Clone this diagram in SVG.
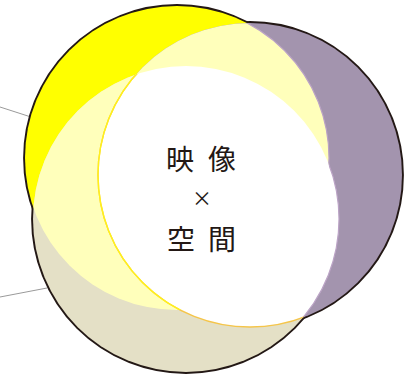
<svg xmlns="http://www.w3.org/2000/svg" width="412" height="374" viewBox="0 0 412 374">
<style>
.outline{fill:none;stroke:#231815;stroke-width:3.8}
.con{fill:none;stroke:#9a9a9a;stroke-width:1}
.lbl{font-family:"Noto Sans CJK JP","Noto Sans CJK SC",sans-serif;fill:#231815}
.edgeP{fill:none;stroke:#bba3c6;stroke-width:1.2}
</style>
<defs>
<clipPath id="cY"><circle cx="177" cy="158" r="152"/></clipPath>
<clipPath id="cP"><circle cx="250" cy="175" r="152"/></clipPath>
<clipPath id="cB"><circle cx="186" cy="219" r="153"/></clipPath>
<mask id="mPnoB" maskUnits="userSpaceOnUse" x="0" y="0" width="412" height="374">
<rect width="412" height="374" fill="#000"/>
<circle cx="250" cy="175" r="152" fill="#fff"/>
<circle cx="186" cy="219" r="153" fill="#000"/>
</mask>
<mask id="mPnoY" maskUnits="userSpaceOnUse" x="0" y="0" width="412" height="374">
<rect width="412" height="374" fill="#000"/>
<circle cx="250" cy="175" r="152" fill="#fff"/>
<circle cx="177" cy="158" r="152" fill="#000"/>
</mask>
</defs>
<g id="connectors">
<line class="con" x1="0" y1="107" x2="31" y2="117"/>
<line class="con" x1="0" y1="297" x2="47" y2="288"/>
</g>
<g id="outlines">
<circle class="outline" cx="177" cy="158" r="152"/>
<circle class="outline" cx="250" cy="175" r="152"/>
<circle class="outline" cx="186" cy="219" r="153"/>
</g>
<g id="circle-yellow"><circle cx="177" cy="158" r="152" fill="#ffff00"/></g>
<g id="circle-purple"><circle cx="250" cy="175" r="152" fill="#a394ae"/></g>
<g id="circle-beige"><circle cx="186" cy="219" r="153" fill="#e4e0c6"/></g>
<g id="overlap-yellow-purple"><circle cx="250" cy="175" r="152" fill="#ffffbb" clip-path="url(#cY)"/></g>
<g id="overlap-yellow-beige"><circle cx="186" cy="219" r="153" fill="#ffffbb" clip-path="url(#cY)"/></g>
<g id="overlap-center"><circle cx="186" cy="219" r="153" fill="#ffffff" clip-path="url(#cP)"/></g>
<g id="edges">
<circle class="edgeP" cx="177" cy="158" r="152" mask="url(#mPnoB)"/>
<circle class="edgeP" cx="186" cy="219" r="153" mask="url(#mPnoY)"/>
<g clip-path="url(#cB)">
<circle cx="250" cy="175" r="152" fill="none" stroke="#f5c54a" stroke-width="1.4"/>
<g clip-path="url(#cY)"><circle cx="250" cy="175" r="152" fill="none" stroke="#fff21a" stroke-width="1.4"/></g>
</g>
</g>
<g id="label">
<text class="lbl" x="166 208" y="170" font-size="28">映像</text>
<text class="lbl" x="202" y="206" font-size="20" text-anchor="middle">×</text>
<text class="lbl" x="167 208" y="250" font-size="28">空間</text>
</g>
</svg>
